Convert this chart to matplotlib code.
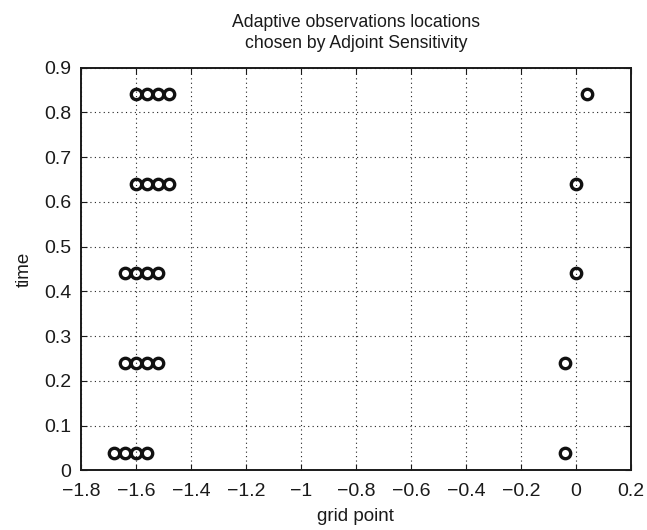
import matplotlib
matplotlib.use("Agg")
import matplotlib.pyplot as plt
from matplotlib.ticker import FuncFormatter

plt.rcParams['font.family'] = ['Liberation Sans', 'DejaVu Sans']

times = [0.04, 0.24, 0.44, 0.64, 0.84]
cluster_x = [
    [-1.68, -1.64, -1.60, -1.56],
    [-1.64, -1.60, -1.56, -1.52],
    [-1.64, -1.60, -1.56, -1.52],
    [-1.60, -1.56, -1.52, -1.48],
    [-1.60, -1.56, -1.52, -1.48],
]
right_x = [-0.04, -0.04, 0.0, 0.0, 0.04]

xticks = [-1.8, -1.6, -1.4, -1.2, -1.0, -0.8, -0.6, -0.4, -0.2, 0.0, 0.2]
yticks = [0, 0.1, 0.2, 0.3, 0.4, 0.5, 0.6, 0.7, 0.8, 0.9]

fig = plt.figure(figsize=(6.47, 5.30), dpi=100)
ax = fig.add_axes([0.125, 0.1123, 0.85, 0.7603])

for t, xs, rx in zip(times, cluster_x, right_x):
    ax.plot(xs + [rx], [t] * (len(xs) + 1), linestyle='none', marker='o',
            markersize=7.5, markerfacecolor='none', markeredgecolor='#111111',
            markeredgewidth=2.4)

ax.set_xlim(-1.8, 0.2)
ax.set_ylim(0, 0.9)
ax.set_xticks(xticks)
ax.set_yticks(yticks)

def fmt(v, pos):
    s = ('%g' % round(v, 3))
    return s.replace('-', '\u2212')

ax.xaxis.set_major_formatter(FuncFormatter(fmt))
ax.yaxis.set_major_formatter(FuncFormatter(fmt))
ax.tick_params(direction='in', top=True, right=True, labelsize=14, length=4,
               width=0.8, pad=7, colors='#1a1a1a')
ax.tick_params(axis='x', pad=9)
ax.grid(True, linestyle=(0, (1, 3)), color='#222222', linewidth=0.8)
for sp in ax.spines.values():
    sp.set_linewidth(1.4)
    sp.set_color('#1a1a1a')

ax.set_xlabel('grid point', fontsize=13.5, labelpad=6, color='#1a1a1a')
ax.set_ylabel('time', fontsize=13.5, labelpad=8, color='#1a1a1a')
ax.set_title('Adaptive observations locations\nchosen by Adjoint Sensitivity',
             fontsize=12.7, pad=14, color='#1a1a1a', linespacing=1.3)

fig.savefig('out.png', dpi=100)
